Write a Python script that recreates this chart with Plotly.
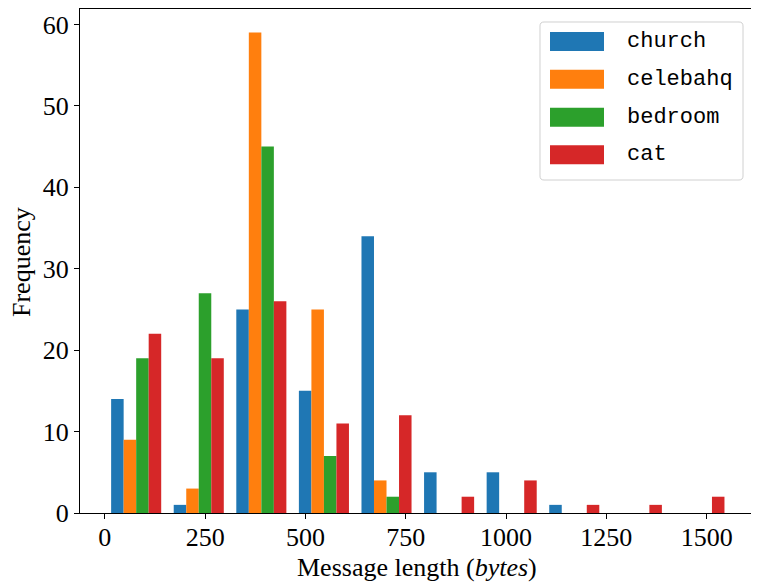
import plotly.graph_objects as go

# ---- data ----
series_names = ["church", "celebahq", "bedroom", "cat"]
series_colors = ["#1f77b4", "#ff7f0e", "#2ca02c", "#d62728"]
bin_start = 0
bin_width = 156
church = [14, 1, 25, 15, 34, 5, 5, 1, 0, 0]
celebahq = [9, 3, 59, 25, 4, 0, 0, 0, 0, 0]
bedroom = [19, 27, 45, 7, 2, 0, 0, 0, 0, 0]
cat = [22, 19, 26, 11, 12, 2, 4, 1, 1, 2]
x_ticks = [0, 250, 500, 750, 1000, 1250, 1500]
y_ticks = [0, 10, 20, 30, 40, 50, 60]
x_title = "Message length (<i>bytes</i>)"
y_title = "Frequency"

values = [church, celebahq, bedroom, cat]
centers = [bin_start + bin_width * (i + 0.5) for i in range(len(church))]

fig = go.Figure()
for name, vals, col in zip(series_names, values, series_colors):
    fig.add_trace(go.Bar(x=centers, y=vals, name=name, marker_color=col,
                         marker_line_width=0, showlegend=False))

# page body has an 8px margin: figure is laid out in screen coords minus offset
OFF = 8
SW, SH = 759, 586
W, H = SW - OFF, SH - OFF
L, R, T, B = 80, 754, 9, 513          # plot area in screen pixels
pw, ph = R - L, B - T

def px(x):
    return (x - L) / pw

def py(y):
    return (B - y) / ph

# custom legend (matplotlib-like)
bx0, bx1, by0, by1 = 540, 743, 22, 180
r = 4
def P(x, y):
    return f"{px(x):.5f},{py(y):.5f}"
path = (f"M {P(bx0 + r, by0)} L {P(bx1 - r, by0)} Q {P(bx1, by0)} {P(bx1, by0 + r)} "
        f"L {P(bx1, by1 - r)} Q {P(bx1, by1)} {P(bx1 - r, by1)} "
        f"L {P(bx0 + r, by1)} Q {P(bx0, by1)} {P(bx0, by1 - r)} "
        f"L {P(bx0, by0 + r)} Q {P(bx0, by0)} {P(bx0 + r, by0)} Z")
shapes = [dict(type="path", path=path, xref="paper", yref="paper",
               line=dict(color="#d0d0d0", width=1), fillcolor="rgba(255,255,255,0.8)")]
annotations = []
row_y = [41.5, 79.3, 117.2, 154.8]
for name, col, yc in zip(series_names, series_colors, row_y):
    shapes.append(dict(type="rect", xref="paper", yref="paper",
                       x0=px(550), x1=px(604), y0=py(yc + 9.5), y1=py(yc - 9.5),
                       fillcolor=col, line=dict(width=0)))
    annotations.append(dict(x=px(625), y=py(yc), xref="paper", yref="paper",
                            text=name, showarrow=False, xanchor="left", yanchor="middle",
                            font=dict(family="Liberation Mono", size=22, color="black")))

title_font = dict(family="Liberation Serif", size=26, color="black")
annotations.append(dict(x=0.5, y=py(567), xref="paper", yref="paper", text=x_title,
                        showarrow=False, xanchor="center", yanchor="middle", font=title_font))
annotations.append(dict(x=px(21), y=py(262), xref="paper", yref="paper", text=y_title,
                        showarrow=False, xanchor="center", yanchor="middle", textangle=-90,
                        font=title_font))

axis_common = dict(showline=True, linecolor="black", linewidth=1.2, mirror=True,
                   ticks="outside", ticklen=5, tickwidth=1.1, tickcolor="black",
                   showgrid=False, zeroline=False, automargin=False,
                   tickfont=dict(family="Liberation Serif", size=26, color="black"))

fig.update_layout(
    width=W, height=H,
    margin=dict(l=L - OFF, r=SW - R, t=T - OFF, b=SH - B, pad=0),
    plot_bgcolor="white", paper_bgcolor="white",
    barmode="group", bargap=0.2, bargroupgap=0,
    xaxis=dict(range=[-62, 1618], tickvals=x_ticks, ticklabelstandoff=-4, **axis_common),
    yaxis=dict(range=[0, 61.9], tickvals=y_ticks, **axis_common),
    shapes=shapes, annotations=annotations,
)

fig.write_html("out.html")
